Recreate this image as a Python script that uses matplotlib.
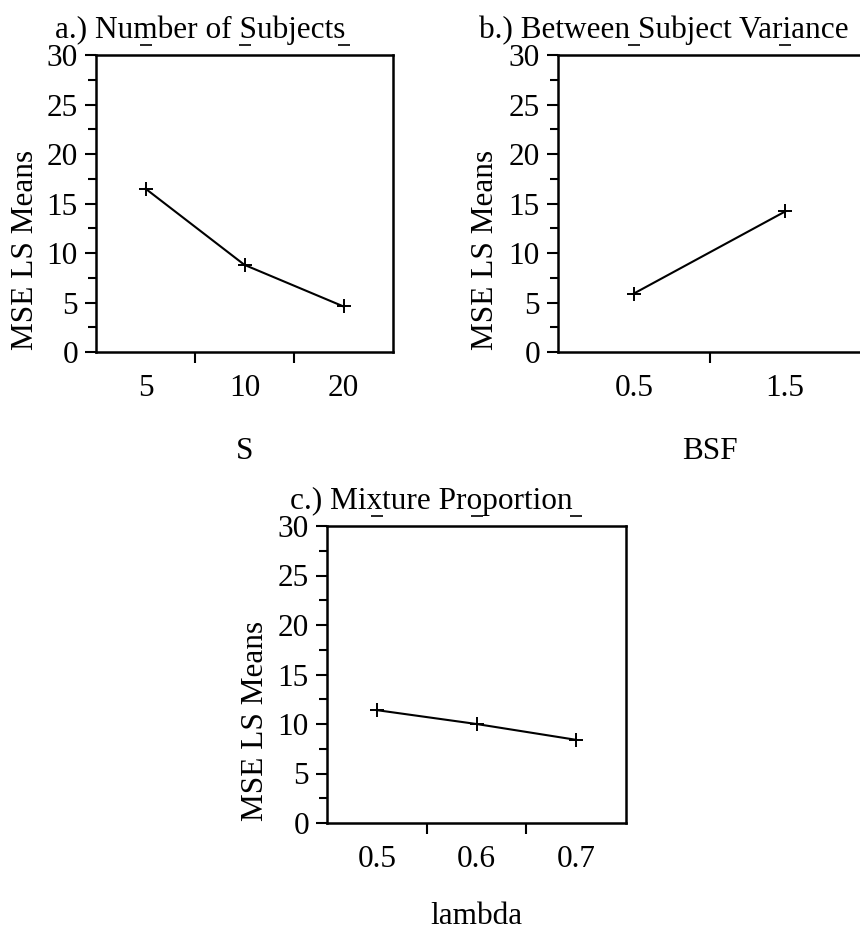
import matplotlib
matplotlib.use("Agg")
import matplotlib.pyplot as plt
from matplotlib.ticker import MultipleLocator, FixedLocator
import numpy as np

plt.rcParams['font.family'] = ['Liberation Serif', 'DejaVu Serif']

# ---- data ----
s_levels = ["5", "10", "20"]
s_means = [16.5, 8.8, 4.6]

bsf_levels = ["0.5", "1.5"]
bsf_means = [5.9, 14.2]

lambda_levels = ["0.5", "0.6", "0.7"]
lambda_means = [11.4, 10.0, 8.4]

titles = ["a.) Number of Subjects", "b.) Between Subject Variance", "c.) Mixture Proportion"]
xlabels = ["S", "BSF", "lambda"]
ylabel = "MSE LS Means"

W, H = 860, 933
fig = plt.figure(figsize=(W / 100, H / 100), dpi=100)

def rect(l, b, w, h):
    return [l / W, 1 - b / H, w / W, h / H]

FS = 22.5

def panel(r, levels, means, title, xlabel, xlabelpad=24):
    ax = fig.add_axes(r)
    n = len(levels)
    x = np.arange(n)
    ax.plot(x, means, color='black', lw=1.5, marker='+', ms=10, mew=1.4)
    ax.set_xlim(-0.5, n - 0.5)
    ax.set_ylim(0, 30)
    ax.yaxis.set_major_locator(MultipleLocator(5))
    ax.yaxis.set_minor_locator(MultipleLocator(2.5))
    ax.xaxis.set_major_locator(FixedLocator(x))
    ax.set_xticklabels(levels)
    ax.xaxis.set_minor_locator(FixedLocator(np.arange(n - 1) + 0.5))
    ax.tick_params(axis='x', which='major', length=0, pad=16, labelsize=FS)
    ax.tick_params(axis='x', which='minor', length=8, width=1.5, direction='out')
    ax.tick_params(axis='y', which='major', length=8, width=1.5, direction='out', pad=5, labelsize=FS)
    ax.tick_params(axis='y', which='minor', length=6, width=1.5, direction='out')
    for sp in ax.spines.values():
        sp.set_linewidth(1.8)
    ax.set_title(title, fontsize=FS, x=0.35, pad=12)
    ax.set_xlabel(xlabel, fontsize=FS, labelpad=xlabelpad)
    ax.set_ylabel(ylabel, fontsize=FS)
    ax.yaxis.set_label_coords(-0.19, 0.343)
    # small marks above the top frame at category positions
    ax.plot(x, [1.035] * n, transform=ax.get_xaxis_transform(), ls='none',
            marker='_', ms=8, mew=1.2, color='black', clip_on=False)
    return ax

ax_a = panel(rect(96, 352, 297, 297), s_levels, s_means, titles[0], xlabels[0])
ax_b = panel(rect(558, 352, 303, 297), bsf_levels, bsf_means, titles[1], xlabels[1])
ax_c = panel(rect(327, 823, 299, 297), lambda_levels, lambda_means, titles[2], xlabels[2],
             xlabelpad=20)

fig.savefig("out.png", dpi=100)
